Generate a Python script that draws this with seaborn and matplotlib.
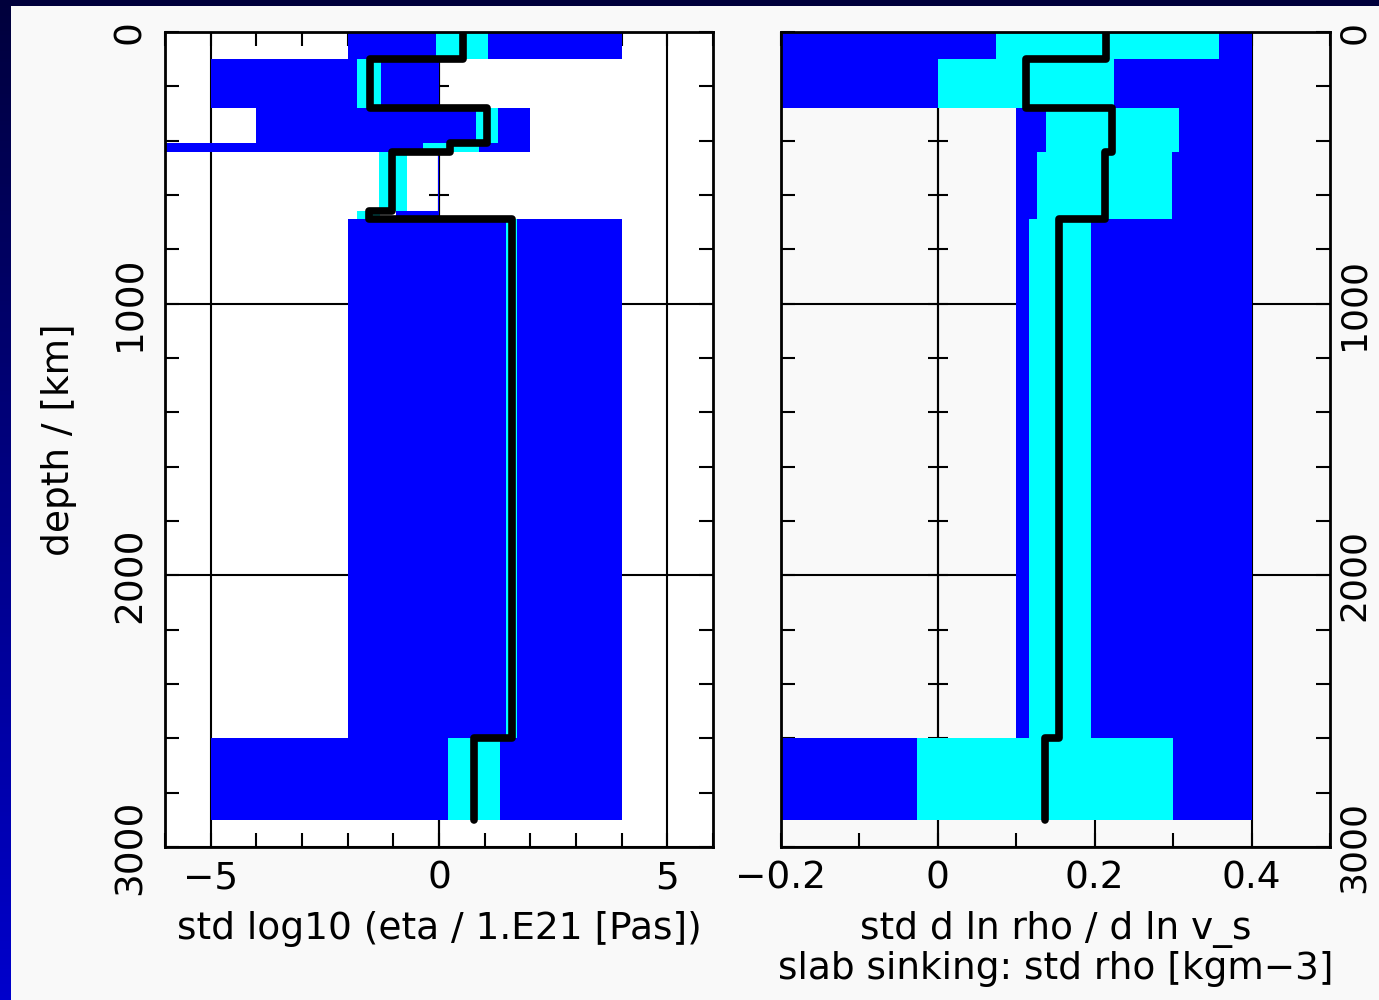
import numpy as np
import pandas as pd
import matplotlib
matplotlib.use("Agg")
import matplotlib.pyplot as plt
import seaborn as sns
from matplotlib.colors import LinearSegmentedColormap
from matplotlib.patches import Rectangle
from matplotlib.ticker import MultipleLocator, FixedLocator, FuncFormatter

# ===================== DATA =====================
# viscosity panel: layer tops / bottoms [km]
eta_top = [0, 100, 280, 410, 440, 660, 690, 2600]
eta_bot = [100, 280, 410, 440, 660, 690, 2600, 2900]
eta_mean = [0.52, -1.52, 1.05, 0.25, -1.02, -1.53, 1.60, 0.76]
eta_std_lo = [-0.07, -1.80, 0.81, -0.34, -1.31, -1.80, 1.47, 0.19]
eta_std_hi = [1.08, -1.26, 1.29, 0.87, -0.71, -1.30, 1.71, 1.33]
eta_rng_lo = [-2.0, -5.0, -4.0, -7.0, -0.03, -0.95, -2.0, -5.0]
eta_rng_hi = [4.0, 0.0, 2.0, 2.0, 0.0, 0.0, 4.0, 4.0]

# density scaling panel
rho_top = [0, 100, 280, 440, 690, 2600]
rho_bot = [100, 280, 440, 690, 2600, 2900]
rho_mean = [0.215, 0.113, 0.222, 0.213, 0.155, 0.137]
rho_std_lo = [0.074, 0.0, 0.138, 0.127, 0.116, -0.027]
rho_std_hi = [0.358, 0.225, 0.307, 0.298, 0.195, 0.300]
rho_rng_lo = [-0.2, -0.2, 0.1, 0.1, 0.1, -0.2]
rho_rng_hi = [0.4, 0.4, 0.4, 0.4, 0.4, 0.4]

eta_xticks = [-5, 0, 5]
rho_xticks = [-0.2, 0, 0.2, 0.4]
depth_ticks = [0, 1000, 2000, 3000]

FS = 27
sns.set_style("white")
plt.rcParams["font.family"] = ["DejaVu Sans"]
plt.rcParams["axes.unicode_minus"] = True
plt.rcParams["text.color"] = "k"
plt.rcParams["axes.labelcolor"] = "k"


def fmt(v, pos):
    return f"{v:g}".replace("-", "\u2212")


def draw_panel(ax, top, bot, mean, slo, shi, rlo, rhi):
    top = np.array(top, float)
    bot = np.array(bot, float)
    cen = (top + bot) / 2
    h = bot - top
    ax.barh(cen, np.array(rhi) - np.array(rlo), left=rlo, height=h,
            color="#0000ff", linewidth=0, zorder=1)
    ax.barh(cen, np.array(shi) - np.array(slo), left=slo, height=h,
            color="#00ffff", linewidth=0, zorder=1.1)
    steps = pd.DataFrame({
        "x": np.repeat(mean, 2),
        "depth": np.column_stack([top, bot]).ravel(),
    })
    sns.lineplot(data=steps, x="x", y="depth", sort=False, estimator=None,
                 color="k", lw=5.5, solid_capstyle="round",
                 solid_joinstyle="round", ax=ax, zorder=3)
    # zero axis with tick crosses
    ax.axvline(0, color="k", lw=1.5, zorder=0.6)
    minor_d = np.arange(200, 3000, 200)
    ax.plot(np.zeros(len(minor_d)), minor_d, ls="none", marker="_",
            ms=14, mew=1.5, color="k", zorder=0.6)


fig = plt.figure(figsize=(13.79, 10), dpi=100)

# navy frame with light inner area
bg = fig.add_axes([0, 0, 1, 1])
bg.set_zorder(-10)
navy = LinearSegmentedColormap.from_list("navy", ["#00003c", "#0000cc"])
bg.imshow(np.linspace(0, 1, 256).reshape(-1, 1), aspect="auto", cmap=navy,
          extent=[0, 1, 0, 1])
bg.add_patch(Rectangle((11 / 1379, 0), 1, 0.994, facecolor="#f9f9f9",
                       edgecolor="none"))
bg.set_xlim(0, 1)
bg.set_ylim(0, 1)
bg.axis("off")

ax1 = fig.add_axes([165 / 1379, 0.153, 548 / 1379, 0.815])
ax2 = fig.add_axes([781 / 1379, 0.153, 549 / 1379, 0.815])
ax1.set_facecolor("white")
ax2.set_facecolor("#f9f9f9")

draw_panel(ax1, eta_top, eta_bot, eta_mean, eta_std_lo, eta_std_hi,
           eta_rng_lo, eta_rng_hi)
draw_panel(ax2, rho_top, rho_bot, rho_mean, rho_std_lo, rho_std_hi,
           rho_rng_lo, rho_rng_hi)

ax1.set_xlim(-6, 6)
ax2.set_xlim(-0.2, 0.5)
ax1.xaxis.set_major_locator(FixedLocator(eta_xticks))
ax1.xaxis.set_minor_locator(MultipleLocator(1))
ax2.xaxis.set_major_locator(FixedLocator(rho_xticks))
ax2.xaxis.set_minor_locator(MultipleLocator(0.1))

for ax in (ax1, ax2):
    ax.set_ylim(3000, 0)
    ax.yaxis.set_major_locator(FixedLocator(depth_ticks))
    ax.yaxis.set_minor_locator(MultipleLocator(200))
    ax.xaxis.set_major_formatter(FuncFormatter(fmt))
    ax.set_axisbelow(True)
    ax.grid(True, which="major", color="k", lw=1.5)
    ax.tick_params(which="both", direction="in", length=10, width=1.5,
                   color="k", top=True, bottom=True, left=True, right=True,
                   labelsize=FS, labelcolor="k")
    ax.tick_params(axis="x", pad=10)
    ax.tick_params(axis="y", labelrotation=90, pad=12)
    for s in ax.spines.values():
        s.set_color("k")
        s.set_linewidth(2)
    ax.set_xlabel("")
    ax.set_ylabel("")

ax2.tick_params(axis="y", labelleft=False, labelright=True, pad=5,
                labelsize=26)

for ax in (ax1, ax2):
    for t in ax.yaxis.get_major_ticks():
        t.label1.set_va("center")
        t.label2.set_va("center")

ax1.set_xlabel("std log10 (eta / 1.E21 [Pas])", fontsize=FS, labelpad=10,
               color="k")
ax2.set_xlabel("std d ln rho / d ln v_s\nslab sinking: std rho [kgm\u22123]",
               fontsize=FS, labelpad=10, linespacing=1.1, color="k")
ax1.set_ylabel("depth / [km]", fontsize=FS, color="k")
ax1.yaxis.set_label_coords(-0.16, 0.5)

fig.savefig("out.png", dpi=100)
